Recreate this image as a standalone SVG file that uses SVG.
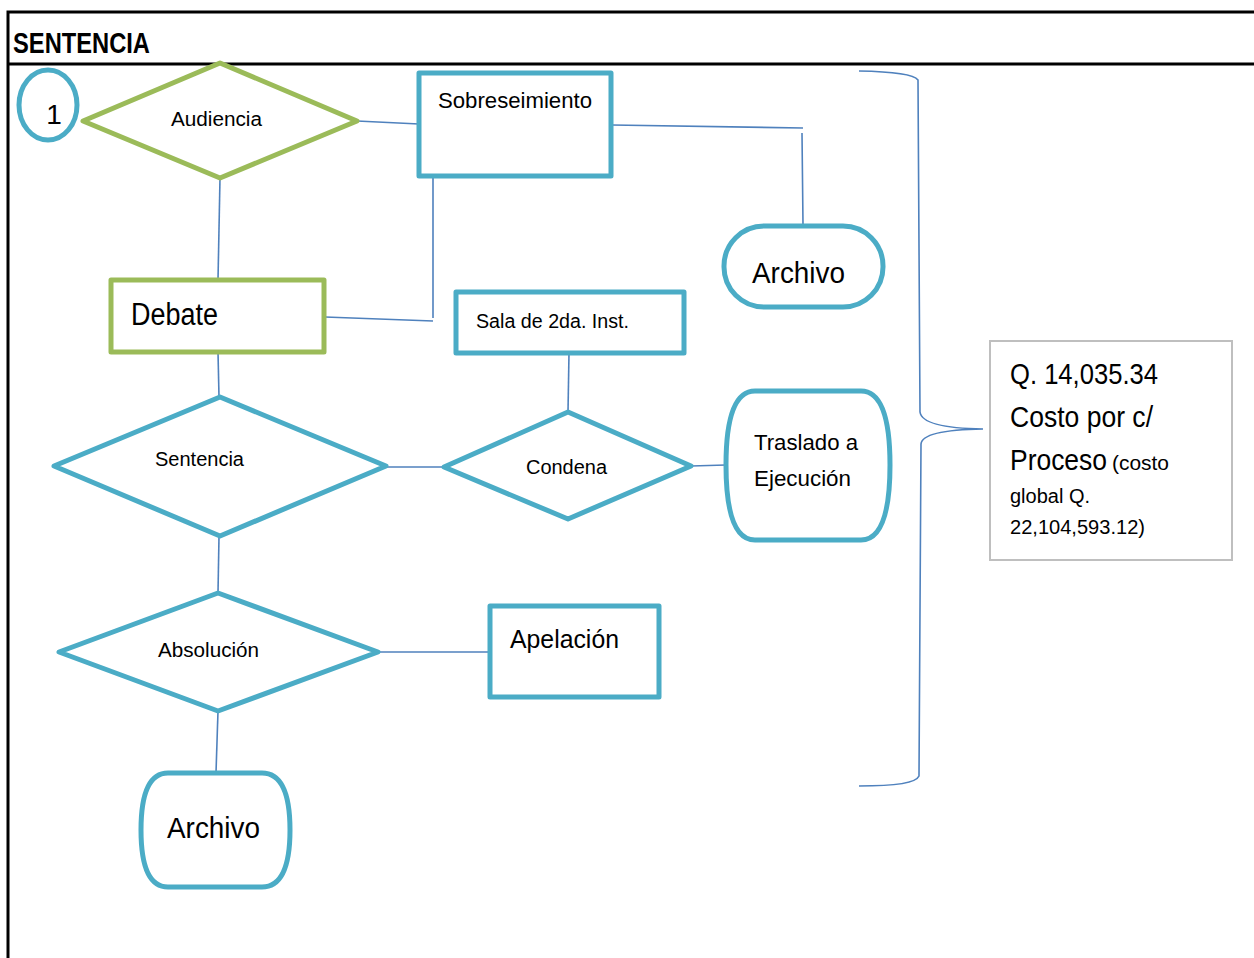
<svg xmlns="http://www.w3.org/2000/svg" width="1254" height="958" viewBox="0 0 1254 958">
<style>
text{font-family:"Liberation Sans",Arial,sans-serif;fill:#000}
.blue{fill:#fff;stroke:#4BACC6;stroke-width:5;stroke-linejoin:round}
.green{fill:#fff;stroke:#9BBB59;stroke-width:5;stroke-linejoin:round}
.conn{fill:none;stroke:#4F81BD;stroke-width:1.6}
.frame{stroke:#000;stroke-width:3;fill:none}
</style>
<rect width="1254" height="958" fill="#fff"/>
<g id="frame">
<path class="frame" d="M8,958 V12 H1254 M8,64 H1254"/>
<text x="13" y="53" font-size="29" font-weight="bold" textLength="137" lengthAdjust="spacingAndGlyphs">SENTENCIA</text>
</g>
<g id="connectors">
<path class="conn" d="M357,121 L419,124"/>
<path class="conn" d="M612,125 L803,128 M802,133 L803,225"/>
<path class="conn" d="M433,177 L433,318 M325,317 L433,321"/>
<path class="conn" d="M220,178 L218,280"/>
<path class="conn" d="M218,352 L219,397"/>
<path class="conn" d="M569,353 L568,412"/>
<path class="conn" d="M386,467 L444,467"/>
<path class="conn" d="M691,466 L726,465"/>
<path class="conn" d="M219,536 L218,593"/>
<path class="conn" d="M378,652 L490,652"/>
<path class="conn" d="M218,711 L216,773"/>
<path class="conn" d="M859,71 Q912,72 918,80 L920,412 Q922,428 983,429 Q922,430 921,444 L919,776 Q915,786 859,786"/>
</g>
<g id="n1">
<ellipse class="blue" cx="48" cy="105" rx="29" ry="35"/>
<text x="54" y="124" font-size="28" text-anchor="middle">1</text>
</g>
<g id="audiencia">
<polygon class="green" points="83,121 220,63 357,121 220,178"/>
<text x="171" y="126" font-size="20" textLength="91" lengthAdjust="spacingAndGlyphs">Audiencia</text>
</g>
<g id="sobreseimiento">
<rect class="blue" x="419" y="73" width="192" height="103"/>
<text x="438" y="108" font-size="22" textLength="154" lengthAdjust="spacingAndGlyphs">Sobreseimiento</text>
</g>
<g id="archivo1">
<rect class="blue" x="724" y="226" width="159" height="81" rx="40" ry="40"/>
<text x="752" y="283" font-size="30" textLength="93" lengthAdjust="spacingAndGlyphs">Archivo</text>
</g>
<g id="debate">
<rect class="green" x="111" y="280" width="213" height="72"/>
<text x="131" y="325" font-size="31" textLength="87" lengthAdjust="spacingAndGlyphs">Debate</text>
</g>
<g id="sala">
<rect class="blue" x="456" y="292" width="228" height="61"/>
<text x="476" y="328" font-size="20" textLength="153" lengthAdjust="spacingAndGlyphs">Sala de 2da. Inst.</text>
</g>
<g id="sentencia">
<polygon class="blue" points="54,466 220,397 386,466 220,536"/>
<text x="155" y="466" font-size="20" textLength="89" lengthAdjust="spacingAndGlyphs">Sentencia</text>
</g>
<g id="condena">
<polygon class="blue" points="444,467 568,412 691,466 568,519"/>
<text x="526" y="474" font-size="20" textLength="81" lengthAdjust="spacingAndGlyphs">Condena</text>
</g>
<g id="traslado">
<path class="blue" d="M755,391 H861 Q890,391 890,465 Q890,540 861,540 H755 Q726,540 726,465 Q726,391 755,391 Z"/>
<text x="754" y="450" font-size="22" textLength="104" lengthAdjust="spacingAndGlyphs">Traslado a</text>
<text x="754" y="486" font-size="22" textLength="97" lengthAdjust="spacingAndGlyphs">Ejecución</text>
</g>
<g id="absolucion">
<polygon class="blue" points="59,652 218,593 378,652 218,711"/>
<text x="158" y="657" font-size="20" textLength="101" lengthAdjust="spacingAndGlyphs">Absolución</text>
</g>
<g id="apelacion">
<rect class="blue" x="490" y="606" width="169" height="91"/>
<text x="510" y="648" font-size="25" textLength="109" lengthAdjust="spacingAndGlyphs">Apelación</text>
</g>
<g id="archivo2">
<path class="blue" d="M168,773 H262 Q290,773 290,830 Q290,887 262,887 H168 Q141,887 141,830 Q141,773 168,773 Z"/>
<text x="167" y="838" font-size="30" textLength="93" lengthAdjust="spacingAndGlyphs">Archivo</text>
</g>
<g id="costo">
<rect x="990" y="341" width="242" height="219" fill="#fff" stroke="#BFBFBF" stroke-width="2"/>
<text x="1010" y="384" font-size="29" textLength="148" lengthAdjust="spacingAndGlyphs">Q. 14,035.34</text>
<text x="1010" y="427" font-size="29" textLength="143" lengthAdjust="spacingAndGlyphs">Costo por c/</text>
<text x="1010" y="470" font-size="29" textLength="97" lengthAdjust="spacingAndGlyphs">Proceso</text>
<text x="1112" y="470" font-size="20" textLength="57" lengthAdjust="spacingAndGlyphs">(costo</text>
<text x="1010" y="503" font-size="20" textLength="80" lengthAdjust="spacingAndGlyphs">global Q.</text>
<text x="1010" y="534" font-size="20" textLength="135" lengthAdjust="spacingAndGlyphs">22,104,593.12)</text>
</g>
</svg>
